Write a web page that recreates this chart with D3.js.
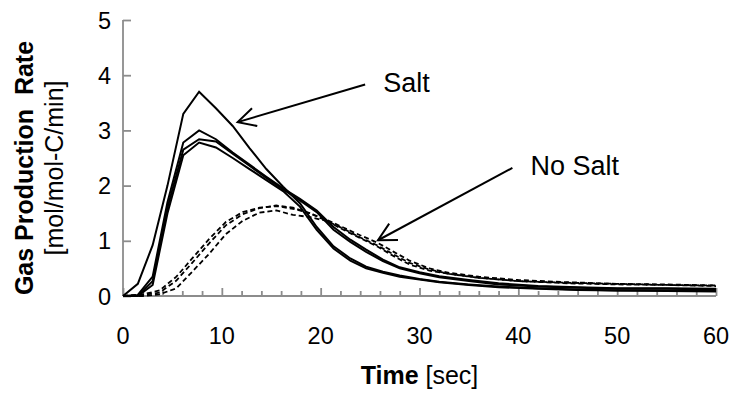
<!DOCTYPE html>
<html>
<head>
<meta charset="utf-8">
<script src="https://cdn.jsdelivr.net/npm/d3@7"></script>
<style>
  html, body { margin: 0; padding: 0; background: #fff; }
  svg { display: block; font-family: "Liberation Sans", Arial, sans-serif; }
</style>
</head>
<body>
<div id="chart"></div>
<script>
// Salt runs (solid lines), time in seconds
const saltTime = [0, 1.5, 3, 4.5, 6.1, 7.7, 9.4, 11.1, 12.8, 14.5, 16.2, 17.9, 19.6, 21.3, 23, 24.6, 26.3, 28, 30, 32, 35, 38, 42, 46, 50, 55, 60];
const salt1 = [0, 0.22, 0.92, 2.0, 3.3, 3.7, 3.4, 3.08, 2.68, 2.3, 1.98, 1.68, 1.25, 0.9, 0.68, 0.53, 0.44, 0.37, 0.31, 0.26, 0.21, 0.17, 0.14, 0.12, 0.1, 0.1, 0.09];
const salt2 = [0, 0.02, 0.35, 1.7, 2.78, 3.0, 2.84, 2.6, 2.38, 2.16, 1.95, 1.76, 1.55, 1.25, 1.02, 0.84, 0.66, 0.52, 0.43, 0.36, 0.29, 0.23, 0.18, 0.16, 0.14, 0.14, 0.13];
const salt3 = [0, 0, 0.27, 1.6, 2.65, 2.84, 2.8, 2.58, 2.36, 2.14, 1.93, 1.73, 1.52, 1.2, 0.98, 0.8, 0.63, 0.5, 0.41, 0.34, 0.27, 0.21, 0.17, 0.15, 0.13, 0.13, 0.12];
const salt4 = [0, 0, 0.2, 1.5, 2.55, 2.78, 2.69, 2.5, 2.3, 2.1, 1.9, 1.62, 1.2, 0.86, 0.64, 0.5, 0.42, 0.35, 0.3, 0.25, 0.2, 0.16, 0.13, 0.11, 0.1, 0.09, 0.08];

// No salt runs (dashed lines)
const noSaltTime = [0, 2, 3.7, 5.4, 7, 8.7, 10.4, 12.1, 13.8, 15.5, 17.2, 18.9, 20.6, 22.3, 24, 25.7, 27.4, 29, 31, 33, 36, 40, 45, 50, 55, 60];
const noSalt1 = [0, 0.03, 0.1, 0.35, 0.68, 1.03, 1.34, 1.52, 1.6, 1.63, 1.58, 1.5, 1.38, 1.24, 1.1, 0.97, 0.8, 0.64, 0.5, 0.42, 0.35, 0.29, 0.25, 0.22, 0.21, 0.19];
const noSalt2 = [0, 0.02, 0.06, 0.28, 0.6, 0.95, 1.28, 1.48, 1.59, 1.64, 1.6, 1.5, 1.36, 1.2, 1.05, 0.9, 0.72, 0.57, 0.46, 0.4, 0.33, 0.27, 0.23, 0.21, 0.2, 0.18];
const noSalt3 = [0, 0, 0.03, 0.14, 0.44, 0.76, 1.12, 1.36, 1.51, 1.55, 1.47, 1.43, 1.36, 1.22, 1.06, 0.92, 0.75, 0.6, 0.48, 0.4, 0.33, 0.27, 0.24, 0.22, 0.2, 0.19];

const xTicks = [0, 10, 20, 30, 40, 50, 60];
const yTicks = [0, 1, 2, 3, 4, 5];

// Annotations: label, arrow tail and arrow tip in data units
const notes = [
  { label: "Salt", tail: [24.5, 3.83], tip: [11.6, 3.15] },
  { label: "No Salt", tail: [39.4, 2.32], tip: [25.8, 1.01] }
];

const width = 734, height = 394;
const axisColor = "#8c8c8c";

const svg = d3.select("#chart").append("svg")
  .attr("width", width)
  .attr("height", height);

const x = d3.scaleLinear().domain([0, 60]).range([123, 716]);
const y = d3.scaleLinear().domain([0, 5]).range([296, 20]);

// Axes (ticks point inward, labels drawn separately)
const xAxisG = svg.append("g")
  .attr("class", "x-axis")
  .attr("transform", `translate(0,${y(0)})`)
  .call(d3.axisTop(x).tickValues(d3.range(0, 61, 2)).tickSize(5).tickFormat(""));
xAxisG.selectAll(".tick line")
  .attr("y2", d => d % 10 === 0 ? -8 : -5);
xAxisG.select(".domain").attr("d", `M${x(0)},0H${x(60)}`);

const yAxisG = svg.append("g")
  .attr("class", "y-axis")
  .attr("transform", `translate(${x(0)},0)`)
  .call(d3.axisRight(y).tickValues(yTicks).tickSize(8).tickFormat(""));
yAxisG.select(".domain").attr("d", `M0,${y(0)}V${y(5)}`);

svg.selectAll(".domain, .tick line")
  .attr("stroke", axisColor)
  .attr("stroke-width", 1.8);

svg.append("g").selectAll("text")
  .data(xTicks).join("text")
  .attr("x", d => x(d))
  .attr("y", 344)
  .attr("text-anchor", "middle")
  .attr("font-size", 23.5)
  .text(d => d);

svg.append("g").selectAll("text")
  .data(yTicks).join("text")
  .attr("x", 111)
  .attr("y", d => y(d) + 8.5)
  .attr("text-anchor", "end")
  .attr("font-size", 23.5)
  .text(d => d);

// Axis titles
const xTitle = svg.append("text")
  .attr("x", (x(0) + x(60)) / 2)
  .attr("y", 384)
  .attr("text-anchor", "middle")
  .attr("font-size", 25);
xTitle.append("tspan").attr("font-weight", "bold").text("Time");
xTitle.append("tspan").text(" [sec]");

svg.append("text")
  .attr("transform", "translate(33,168) rotate(-90)")
  .attr("text-anchor", "middle")
  .attr("font-size", 25)
  .attr("font-weight", "bold")
  .style("white-space", "pre")
  .text("Gas Production  Rate");

svg.append("text")
  .attr("transform", "translate(63,168) rotate(-90)")
  .attr("text-anchor", "middle")
  .attr("font-size", 25)
  .text("[mol/mol-C/min]");

// Lines
const line = t => d3.line()
  .x((d, i) => x(t[i]))
  .y(d => y(d));

const noSaltSeries = [noSalt1, noSalt2, noSalt3];
svg.append("g").selectAll("path")
  .data(noSaltSeries).join("path")
  .attr("d", d => line(noSaltTime)(d))
  .attr("fill", "none")
  .attr("stroke", "#000")
  .attr("stroke-width", 1.8)
  .attr("stroke-dasharray", "5,3");

const saltSeries = [salt1, salt2, salt3, salt4];
svg.append("g").selectAll("path")
  .data(saltSeries).join("path")
  .attr("d", d => line(saltTime)(d))
  .attr("fill", "none")
  .attr("stroke", "#000")
  .attr("stroke-width", 2);

// Annotation arrows and labels
notes.forEach(n => {
  const x1 = x(n.tail[0]), y1 = y(n.tail[1]);
  const x2 = x(n.tip[0]), y2 = y(n.tip[1]);
  const ang = Math.atan2(y1 - y2, x1 - x2);
  const len = 20, spread = Math.PI / 6.5;
  const g = svg.append("g")
    .attr("stroke", "#000")
    .attr("stroke-width", 2)
    .attr("fill", "none");
  g.append("line").attr("x1", x1).attr("y1", y1).attr("x2", x2).attr("y2", y2);
  g.append("path")
    .attr("d", `M${x2 + len * Math.cos(ang - spread)},${y2 + len * Math.sin(ang - spread)}L${x2},${y2}L${x2 + len * Math.cos(ang + spread)},${y2 + len * Math.sin(ang + spread)}`);
  svg.append("text")
    .attr("x", x1 + 18)
    .attr("y", y1 + 7)
    .attr("font-size", 27)
    .text(n.label);
});
</script>
</body>
</html>
